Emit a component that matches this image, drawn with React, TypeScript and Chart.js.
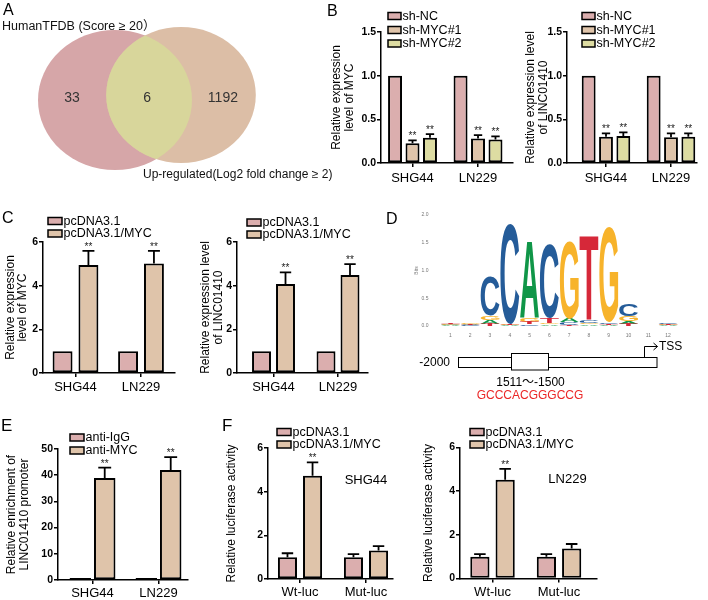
import React, { useEffect, useRef } from "react";
import { Chart, registerables } from "chart.js";

Chart.register(...registerables);

const FONT = 'Arial, "Liberation Sans", "Noto Sans CJK SC", sans-serif';
Chart.defaults.font.family = FONT;
Chart.defaults.color = "#000";

// ---------------- data ----------------
// Panel A (Venn)
const vennSetNames = ["HumanTFDB (Score ≥ 20）", "Up-regulated(Log2 fold change ≥ 2)"];
const vennCounts = [33, 6, 1192]; // left only, overlap, right only

// Panel B
const cellLines = ["SHG44", "LN229"];
const shGroups = ["sh-NC", "sh-MYC#1", "sh-MYC#2"];
const bMycMeans = [[1, 1], [0.225, 0.28], [0.29, 0.27]];
const bMycErrs = [[0, 0], [0.035, 0.04], [0.04, 0.035]];
const bLincMeans = [[1, 1], [0.3, 0.295], [0.31, 0.3]];
const bLincErrs = [[0, 0], [0.04, 0.045], [0.04, 0.04]];
const bStars = [[false, false], [true, true], [true, true]];

// Panel C
const ovGroups = ["pcDNA3.1", "pcDNA3.1/MYC"];
const cMycMeans = [[1, 1], [4.95, 5.02]];
const cMycErrs = [[0, 0], [0.64, 0.57]];
const cLincMeans = [[1, 1], [4.08, 4.49]];
const cLincErrs = [[0, 0], [0.53, 0.5]];
const ovStars = [[false, false], [true, true]];

// Panel D (sequence logo, bits per letter at positions 1..12)
const logoPositions = ["1", "2", "3", "4", "5", "6", "7", "8", "9", "10", "11", "12"];
const logoLetters = ["A", "C", "G", "T"];
const logoA = [0.01, 0.012, 0.07, 0.01, 1.38, 0.03, 0.06, 0.03, 0.02, 0.05, 0.004, 0.01];
const logoC = [0.01, 0.01, 0.7, 1.8, 0.03, 1.33, 0.05, 0.04, 0.03, 0.21, 0.004, 0.02];
const logoG = [0.01, 0.015, 0.07, 0.015, 0.08, 0.03, 1.4, 0.03, 1.72, 0.09, 0.004, 0.015];
const logoT = [0.01, 0.01, 0.04, 0.01, 0.04, 0.08, 0.02, 1.5, 0.02, 0.04, 0.004, 0.01];
const promoterTexts = ["-2000", "TSS", "1511～-1500", "GCCCACGGGCCG"];

// Panel E
const chipGroups = ["anti-IgG", "anti-MYC"];
const eMeans = [[0.8, 0.8], [38.9, 42.0]];
const eErrs = [[0, 0], [4.0, 4.9]];
const eStars = [[false, false], [true, true]];

// Panel F
const lucCategories = ["Wt-luc", "Mut-luc"];
const fShgMeans = [[1.0, 1.0], [4.73, 1.3]];
const fShgErrs = [[0.18, 0.14], [0.61, 0.21]];
const fLnMeans = [[1.0, 1.0], [4.52, 1.37]];
const fLnErrs = [[0.12, 0.12], [0.5, 0.21]];
const fStars = [[false, false], [true, false]];

// ---------------- styles ----------------
const PINK = "rgb(219,174,174)";
const TAN = "rgb(223,196,170)";
const YEL = "rgb(221,220,162)";
const vennColors = ["rgb(214,166,168)", "rgb(220,190,166)"];
const vennOverlapColor = "rgb(216,214,155)";
const logoColors = ["#109648", "#255C99", "#F7B32B", "#D62839"];

type BarSpec = {
  rect: number[];
  plot: { x0: number; x1: number; yTop: number; yBottom: number };
  categories: string[];
  groups: string[];
  colors: string[];
  means: number[][];
  errs: number[][];
  stars: boolean[][];
  yMax: number;
  yStep: number;
  decimals: number;
  yTitle: string[];
  titleX: number;
  legendX: number;
  legendY: number[];
  boxW: number;
  xMin: number;
  xMax: number;
  catPct: number;
  barPct: number;
  xPad: number;
  note?: { text: string; x: number; y: number };
};

function errorPlugin(s: BarSpec) {
  return {
    id: "errbars",
    afterDatasetsDraw(chart: any) {
      const ctx = chart.ctx;
      const ys = chart.scales.y;
      s.means.forEach((row, i) => {
        const meta = chart.getDatasetMeta(i);
        row.forEach((v, j) => {
          const el = meta.data[j];
          if (!el) return;
          const { x, width } = el.getProps(["x", "width"], true);
          const e = s.errs[i][j];
          const y0 = ys.getPixelForValue(v);
          const y1 = ys.getPixelForValue(v + e);
          ctx.save();
          ctx.strokeStyle = "#000";
          ctx.lineWidth = 1.8;
          if (e > 0) {
            const cw = width * 0.6;
            ctx.beginPath();
            ctx.moveTo(x, y0);
            ctx.lineTo(x, y1);
            ctx.moveTo(x - cw / 2, y1);
            ctx.lineTo(x + cw / 2, y1);
            ctx.stroke();
          }
          if (s.stars[i][j]) {
            ctx.fillStyle = "#222";
            ctx.font = `10px ${FONT}`;
            ctx.textAlign = "center";
            ctx.textBaseline = "alphabetic";
            ctx.fillText("**", x, y1 - 1);
          }
          ctx.restore();
        });
      });
    },
  };
}

function legendPlugin(s: BarSpec) {
  return {
    id: "boxlegend",
    afterDraw(chart: any) {
      const ctx = chart.ctx;
      const [L, T] = s.rect;
      s.groups.forEach((g, i) => {
        const x = s.legendX - L;
        const y = s.legendY[i] - T;
        const bw = s.boxW;
        const bh = 7;
        ctx.save();
        ctx.fillStyle = s.colors[i];
        ctx.fillRect(x, y - bh / 2, bw, bh);
        ctx.strokeStyle = "#000";
        ctx.lineWidth = 1.5;
        ctx.strokeRect(x, y - bh / 2, bw, bh);
        ctx.fillStyle = "#000";
        ctx.font = `12.5px ${FONT}`;
        ctx.textBaseline = "middle";
        ctx.textAlign = "left";
        ctx.fillText(g, x + bw + 1.5, y + 0.5);
        if (i === 0 && s.note) {
          ctx.font = `13px ${FONT}`;
          ctx.textAlign = "center";
          ctx.fillText(s.note.text, s.note.x - L, s.note.y - T);
        }
        ctx.restore();
      });
    },
  };
}

function buildBarConfig(s: BarSpec): any {
  const [L, T, W, H] = s.rect;
  const axisGrid = {
    display: true,
    drawOnChartArea: false,
    drawTicks: true,
    tickLength: 4,
    color: "#000",
    lineWidth: 1.5,
    offset: false,
  };
  const axisBorder = { display: true, color: "#000", width: 1.5 };
  return {
    type: "bar",
    data: {
      datasets: s.groups.map((g, i) => ({
        label: g,
        data: s.means[i].map((v, j) => ({ x: j + 1, y: v })),
        backgroundColor: s.colors[i],
        borderColor: "#000",
        borderWidth: 2,
        borderSkipped: false,
        categoryPercentage: s.catPct,
        barPercentage: s.barPct,
      })),
    },
    options: {
      animation: false,
      responsive: true,
      maintainAspectRatio: false,
      events: [],
      layout: {
        autoPadding: false,
        padding: { left: 0, right: L + W - s.plot.x1, top: s.plot.yTop - T, bottom: 0 },
      },
      plugins: { legend: { display: false }, tooltip: { enabled: false } },
      scales: {
        x: {
          type: "linear",
          offset: false,
          min: s.xMin,
          max: s.xMax,
          afterBuildTicks: (sc: any) => {
            sc.ticks = s.categories.map((_, i) => ({ value: i + 1 }));
          },
          afterFit: (sc: any) => {
            sc.height = T + H - s.plot.yBottom;
          },
          ticks: {
            callback: (v: any) => s.categories[Math.round(Number(v)) - 1] ?? "",
            font: { size: 13 },
            color: "#000",
            padding: s.xPad,
            maxRotation: 0,
            autoSkip: false,
          },
          grid: axisGrid,
          border: axisBorder,
        },
        y: {
          type: "linear",
          min: 0,
          max: s.yMax,
          afterFit: (sc: any) => {
            sc.width = s.plot.x0 - L;
          },
          ticks: {
            stepSize: s.yStep,
            callback: (v: any) => Number(v).toFixed(s.decimals),
            font: { size: 10.5, weight: "bold" },
            color: "#000",
            padding: 1,
          },
          grid: axisGrid,
          border: axisBorder,
          title: {
            display: true,
            text: s.yTitle,
            font: { size: 12, lineHeight: 1.05 },
            color: "#000",
            padding: { top: s.titleX - L - 6.3, bottom: 0 },
          },
        },
      },
    },
    plugins: [errorPlugin(s), legendPlugin(s)],
  };
}

// ---------------- panel specs ----------------
const bLeft: BarSpec = {
  rect: [325, 0, 192, 192],
  plot: { x0: 381, x1: 513, yTop: 32, yBottom: 163 },
  categories: cellLines,
  groups: shGroups,
  colors: [PINK, TAN, YEL],
  means: bMycMeans,
  errs: bMycErrs,
  stars: bStars,
  yMax: 1.5,
  yStep: 0.5,
  decimals: 1,
  yTitle: ["Relative expression", "level of MYC"],
  titleX: 337,
  legendX: 388,
  legendY: [16, 30, 43.5],
  boxW: 13,
  xMin: 0.519,
  xMax: 2.534,
  catPct: 0.8,
  barPct: 0.8,
  xPad: 4,
};

const bRight: BarSpec = {
  ...bLeft,
  rect: [520, 0, 185, 192],
  plot: { x0: 567, x1: 697, yTop: 32, yBottom: 163 },
  means: bLincMeans,
  errs: bLincErrs,
  yTitle: ["Relative expression level", "of LINC01410"],
  titleX: 531,
  legendX: 582,
  xMin: 0.4,
  xMax: 2.4,
};

const cLeft: BarSpec = {
  rect: [0, 205, 180, 192],
  plot: { x0: 43, x1: 175, yTop: 242, yBottom: 373 },
  categories: cellLines,
  groups: ovGroups,
  colors: [PINK, TAN],
  means: cMycMeans,
  errs: cMycErrs,
  stars: ovStars,
  yMax: 6,
  yStep: 2,
  decimals: 0,
  yTitle: ["Relative expression", "level of MYC"],
  titleX: 10.5,
  legendX: 48,
  legendY: [221, 233.5],
  boxW: 14,
  xMin: 0.504,
  xMax: 2.519,
  catPct: 0.79,
  barPct: 0.77,
  xPad: 3,
};

const cRight: BarSpec = {
  ...cLeft,
  rect: [196, 205, 176, 192],
  plot: { x0: 237, x1: 368, yTop: 242, yBottom: 373 },
  means: cLincMeans,
  errs: cLincErrs,
  yTitle: ["Relative expression level", "of LINC01410"],
  titleX: 206,
  legendX: 247,
  legendY: [222.5, 234.5],
  xMin: 0.434,
  xMax: 2.465,
  catPct: 0.744,
  barPct: 0.79,
};

const ePanel: BarSpec = {
  rect: [0, 415, 195, 185],
  plot: { x0: 58, x1: 188, yTop: 449, yBottom: 580 },
  categories: cellLines,
  groups: chipGroups,
  colors: [PINK, TAN],
  means: eMeans,
  errs: eErrs,
  stars: eStars,
  yMax: 50,
  yStep: 10,
  decimals: 0,
  yTitle: ["Relative enrichment of", "LINC01410 promoter"],
  titleX: 12,
  legendX: 70,
  legendY: [437.5, 450.5],
  boxW: 14,
  xMin: 0.477,
  xMax: 2.447,
  catPct: 0.74,
  barPct: 0.88,
  xPad: 2,
};

const fLeft: BarSpec = {
  rect: [220, 415, 178, 185],
  plot: { x0: 268, x1: 393, yTop: 448, yBottom: 579 },
  categories: lucCategories,
  groups: ovGroups,
  colors: [PINK, TAN],
  means: fShgMeans,
  errs: fShgErrs,
  stars: fStars,
  yMax: 6,
  yStep: 2,
  decimals: 0,
  yTitle: ["Relative luciferase activity"],
  titleX: 232,
  legendX: 277,
  legendY: [432, 444.5],
  boxW: 14,
  xMin: 0.515,
  xMax: 2.409,
  catPct: 0.76,
  barPct: 0.76,
  xPad: 2,
  note: { text: "SHG44", x: 366, y: 480 },
};

const fRight: BarSpec = {
  ...fLeft,
  rect: [415, 415, 190, 185],
  plot: { x0: 460, x1: 597, yTop: 447.5, yBottom: 578.5 },
  means: fLnMeans,
  errs: fLnErrs,
  titleX: 428.5,
  legendX: 470,
  xMin: 0.511,
  xMax: 2.571,
  note: { text: "LN229", x: 567.5, y: 479 },
};

// ---------------- Venn ----------------
const vennRect = [0, 0, 340, 190];
const vennLayout = [
  { x: 115, y: 100, r: 70 },
  { x: 181, y: 95, r: 68 },
];
const vennStretch = 1.1;

function buildVennConfig(): any {
  const [, , W, H] = vennRect;
  const plugin = {
    id: "venn",
    beforeDatasetsDraw(chart: any) {
      const ctx = chart.ctx;
      const xs = chart.scales.x;
      const els = [0, 1].map((i) => chart.getDatasetMeta(i).data[0]);
      const shapes = els.map((el: any, i: number) => {
        const rUnits = vennLayout[i].r;
        const r = Math.abs(xs.getPixelForValue(rUnits) - xs.getPixelForValue(0));
        return { x: el.x, y: el.y, rx: r * vennStretch, ry: r };
      });
      const path = (s: any) => {
        ctx.beginPath();
        ctx.ellipse(s.x, s.y, s.rx, s.ry, 0, 0, Math.PI * 2);
      };
      ctx.save();
      path(shapes[0]);
      ctx.fillStyle = vennColors[0];
      ctx.fill();
      path(shapes[1]);
      ctx.fillStyle = vennColors[1];
      ctx.fill();
      path(shapes[0]);
      ctx.clip();
      path(shapes[1]);
      ctx.fillStyle = vennOverlapColor;
      ctx.fill();
      ctx.restore();
      (chart as any).$vennShapes = shapes;
    },
    afterDraw(chart: any) {
      const ctx = chart.ctx;
      const sh = (chart as any).$vennShapes;
      if (!sh) return;
      const [a, b] = sh;
      const cy = (a.y + b.y) / 2;
      const xs = [
        (a.x - a.rx + (b.x - b.rx)) / 2,
        (b.x - b.rx + (a.x + a.rx)) / 2 - 2,
        (a.x + a.rx + (b.x + b.rx)) / 2 - 1,
      ];
      ctx.save();
      ctx.fillStyle = "#333";
      ctx.font = `14px ${FONT}`;
      ctx.textAlign = "center";
      ctx.textBaseline = "middle";
      vennCounts.forEach((c, i) => ctx.fillText(String(c), xs[i], cy + 0.5));
      ctx.fillStyle = "#111";
      ctx.font = `12.5px ${FONT}`;
      ctx.textAlign = "left";
      ctx.fillText(vennSetNames[0], 2, 27);
      ctx.font = `12px ${FONT}`;
      ctx.fillText(vennSetNames[1], 143, 175);
      ctx.restore();
    },
  };
  return {
    type: "bubble",
    data: {
      datasets: vennSetNames.map((n, i) => ({
        label: n,
        data: [vennLayout[i]],
        backgroundColor: "rgba(0,0,0,0)",
        borderWidth: 0,
      })),
    },
    options: {
      animation: false,
      responsive: true,
      maintainAspectRatio: false,
      events: [],
      layout: { autoPadding: false, padding: 0 },
      plugins: { legend: { display: false }, tooltip: { enabled: false } },
      scales: {
        x: { type: "linear", display: false, min: 0, max: W },
        y: { type: "linear", display: false, min: 0, max: H, reverse: true },
      },
    },
    plugins: [plugin],
  };
}

// ---------------- Logo ----------------
const logoRect = [400, 200, 300, 205];
const logoPlot = { x0: 440.5, x1: 678, yTop: 213, yBottom: 326 };

function buildLogoConfig(): any {
  const [L, T, W, H] = logoRect;
  const heights = [logoA, logoC, logoG, logoT];
  const ranges: number[][][] = heights.map(() => []);
  logoPositions.forEach((_, j) => {
    const order = [0, 1, 2, 3].sort((a, b) => heights[a][j] - heights[b][j]);
    let acc = 0;
    order.forEach((k) => {
      ranges[k][j] = [acc, acc + heights[k][j]];
      acc += heights[k][j];
    });
  });
  const letterPlugin = {
    id: "letters",
    afterDatasetsDraw(chart: any) {
      const ctx = chart.ctx;
      logoLetters.forEach((letter, k) => {
        const meta = chart.getDatasetMeta(k);
        ctx.save();
        ctx.font = `bold 200px ${FONT}`;
        const m = ctx.measureText(letter);
        const gl = m.actualBoundingBoxLeft;
        const ga = m.actualBoundingBoxAscent;
        const gw = m.actualBoundingBoxLeft + m.actualBoundingBoxRight;
        const gh = m.actualBoundingBoxAscent + m.actualBoundingBoxDescent;
        ctx.restore();
        meta.data.forEach((el: any) => {
          const { x, y, base, width } = el.getProps(["x", "y", "base", "width"], true);
          const top = Math.min(y, base);
          const h = Math.abs(base - y);
          if (h < 0.25) return;
          ctx.save();
          ctx.translate(x - width / 2, top);
          ctx.scale(width / gw, h / gh);
          ctx.fillStyle = logoColors[k];
          ctx.font = `bold 200px ${FONT}`;
          ctx.textAlign = "left";
          ctx.textBaseline = "alphabetic";
          ctx.fillText(letter, gl, ga);
          ctx.restore();
        });
      });
    },
  };
  const promoterPlugin = {
    id: "promoter",
    afterDraw(chart: any) {
      const ctx = chart.ctx;
      const ox = L;
      const oy = T;
      ctx.save();
      ctx.strokeStyle = "#000";
      ctx.lineWidth = 1;
      ctx.fillStyle = "#fff";
      ctx.fillRect(458 - ox, 357 - oy, 199, 10);
      ctx.strokeRect(458.5 - ox, 357.5 - oy, 198.5, 10);
      ctx.fillRect(511 - ox, 353 - oy, 37, 17);
      ctx.strokeRect(511.5 - ox, 353.5 - oy, 37, 16.5);
      ctx.beginPath();
      ctx.moveTo(644.5 - ox, 357.5 - oy);
      ctx.lineTo(644.5 - ox, 346.5 - oy);
      ctx.lineTo(657.5 - ox, 346.5 - oy);
      ctx.moveTo(653.5 - ox, 343 - oy);
      ctx.lineTo(657.5 - ox, 346.5 - oy);
      ctx.lineTo(653.5 - ox, 350 - oy);
      ctx.stroke();
      ctx.fillStyle = "#000";
      ctx.font = `12px ${FONT}`;
      ctx.textBaseline = "middle";
      ctx.textAlign = "left";
      ctx.fillText(promoterTexts[1], 659 - ox, 347 - oy);
      ctx.textAlign = "right";
      ctx.fillText(promoterTexts[0], 450 - ox, 362.5 - oy);
      ctx.textAlign = "center";
      ctx.fillText(promoterTexts[2], 530.5 - ox, 382.5 - oy);
      ctx.fillStyle = "rgb(235,38,38)";
      ctx.fillText(promoterTexts[3], 530 - ox, 395.5 - oy);
      ctx.restore();
    },
  };
  return {
    type: "bar",
    data: {
      labels: logoPositions,
      datasets: logoLetters.map((l, k) => ({
        label: l,
        data: ranges[k],
        backgroundColor: "rgba(0,0,0,0)",
        borderWidth: 0,
        grouped: false,
        barPercentage: 0.95,
        categoryPercentage: 1,
      })),
    },
    options: {
      animation: false,
      responsive: true,
      maintainAspectRatio: false,
      events: [],
      layout: {
        autoPadding: false,
        padding: { left: 0, right: L + W - logoPlot.x1, top: logoPlot.yTop - T, bottom: 0 },
      },
      plugins: { legend: { display: false }, tooltip: { enabled: false } },
      scales: {
        x: {
          afterFit: (sc: any) => {
            sc.height = T + H - logoPlot.yBottom;
          },
          grid: { display: false, drawTicks: false, tickLength: 0 },
          border: { display: false },
          ticks: { font: { size: 5 }, color: "#777", padding: 7, maxRotation: 0, autoSkip: false },
        },
        y: {
          min: 0,
          max: 2,
          afterFit: (sc: any) => {
            sc.width = logoPlot.x0 - L;
          },
          ticks: {
            stepSize: 0.5,
            callback: (v: any) => Number(v).toFixed(1),
            font: { size: 5 },
            color: "#777",
            padding: 12,
          },
          grid: { display: false, drawTicks: false, tickLength: 0 },
          border: { display: false },
          title: { display: true, text: "Bits", font: { size: 5 }, color: "#777", padding: { top: 14, bottom: 0 } },
        },
      },
    },
    plugins: [letterPlugin, promoterPlugin],
  };
}

// ---------------- components ----------------
function ChartBox({ rect, make }: { rect: number[]; make: () => any }) {
  const ref = useRef<HTMLCanvasElement>(null);
  useEffect(() => {
    if (!ref.current) return;
    const c = new Chart(ref.current, make());
    return () => c.destroy();
  }, []);
  return (
    <div style={{ position: "absolute", left: rect[0], top: rect[1], width: rect[2], height: rect[3] }}>
      <canvas ref={ref} />
    </div>
  );
}

const panelLetters = [
  { t: "A", x: 3, y: 2, s: 16 },
  { t: "B", x: 327, y: 3, s: 16 },
  { t: "C", x: 2, y: 210, s: 16 },
  { t: "D", x: 386, y: 211, s: 16 },
  { t: "E", x: 1, y: 417, s: 17 },
  { t: "F", x: 222, y: 417, s: 17 },
];

export default function App() {
  return (
    <div
      style={{
        position: "fixed",
        left: 0,
        top: 0,
        width: 708,
        height: 600,
        background: "#fff",
        overflow: "hidden",
        fontFamily: FONT,
      }}
    >
      <ChartBox rect={vennRect} make={buildVennConfig} />
      <ChartBox rect={bLeft.rect} make={() => buildBarConfig(bLeft)} />
      <ChartBox rect={bRight.rect} make={() => buildBarConfig(bRight)} />
      <ChartBox rect={cLeft.rect} make={() => buildBarConfig(cLeft)} />
      <ChartBox rect={cRight.rect} make={() => buildBarConfig(cRight)} />
      <ChartBox rect={logoRect} make={buildLogoConfig} />
      <ChartBox rect={ePanel.rect} make={() => buildBarConfig(ePanel)} />
      <ChartBox rect={fLeft.rect} make={() => buildBarConfig(fLeft)} />
      <ChartBox rect={fRight.rect} make={() => buildBarConfig(fRight)} />
      {panelLetters.map((p) => (
        <div
          key={p.t}
          style={{
            position: "absolute",
            left: p.x,
            top: p.y,
            fontSize: p.s,
            lineHeight: 1,
            color: "#000",
          }}
        >
          {p.t}
        </div>
      ))}
    </div>
  );
}
